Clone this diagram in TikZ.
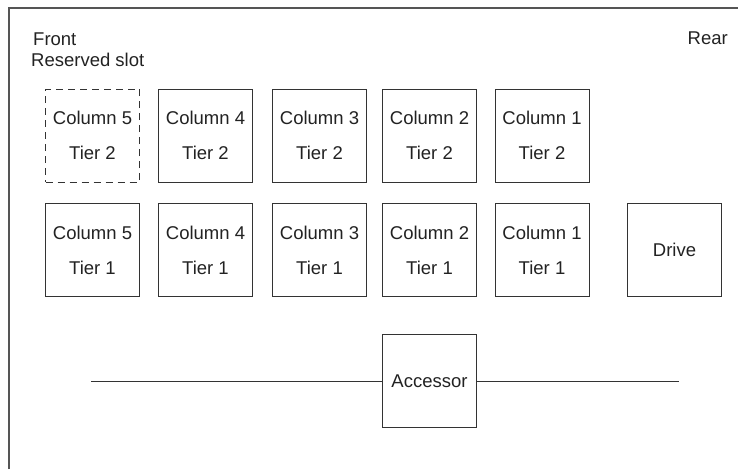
\documentclass[tikz,border=0pt]{standalone}
\usepackage{fontspec}
\setmainfont{Liberation Sans}
\definecolor{linegray}{HTML}{333333}
\definecolor{framegray}{HTML}{555555}
\definecolor{textgray}{HTML}{222222}
\begin{document}
\begin{tikzpicture}[x=1pt,y=-1pt,
  slotbox/.style={draw=linegray, line width=0.9pt, minimum width=94pt, minimum height=93pt,
    align=center, inner sep=0pt, text=textgray, font=\fontsize{18.5}{35}\selectfont},
  reserved/.style={slotbox, dashed, dash pattern=on 7pt off 5pt},
  lbl/.style={inner sep=0pt, text=textgray, font=\fontsize{18.5}{22}\selectfont},
  conn/.style={draw=linegray, line width=0.9pt}]
\useasboundingbox (0,0) rectangle (738,469);
\draw[framegray, line width=1.3pt] (9,469) -- (9,8) -- (738,8);

\node[lbl, anchor=base west] (front) at (33,45) {Front};
\node[lbl, anchor=base west] (reserved) at (31,66.5) {Reserved slot};
\node[lbl, anchor=base east] (rear) at (728,44) {Rear};

\node[reserved] (c5t2) at (92.5,135.5) {Column 5\\Tier 2};
\node[slotbox] (c4t2) at (205.5,135.5) {Column 4\\Tier 2};
\node[slotbox] (c3t2) at (319.5,135.5) {Column 3\\Tier 2};
\node[slotbox] (c2t2) at (429.5,135.5) {Column 2\\Tier 2};
\node[slotbox] (c1t2) at (542,135.5) {Column 1\\Tier 2};

\node[slotbox] (c5t1) at (92.5,250) {Column 5\\Tier 1};
\node[slotbox] (c4t1) at (205.5,250) {Column 4\\Tier 1};
\node[slotbox] (c3t1) at (319.5,250) {Column 3\\Tier 1};
\node[slotbox] (c2t1) at (429.5,250) {Column 2\\Tier 1};
\node[slotbox] (c1t1) at (542,250) {Column 1\\Tier 1};

\node[slotbox] (drive) at (674.5,250) {Drive};
\node[slotbox] (acc) at (429.5,381) {Accessor};

\coordinate (railL) at (91,381);
\coordinate (railR) at (679,381);
\draw[conn] (railL) -- (acc.west);
\draw[conn] (acc.east) -- (railR);
\end{tikzpicture}
\end{document}
